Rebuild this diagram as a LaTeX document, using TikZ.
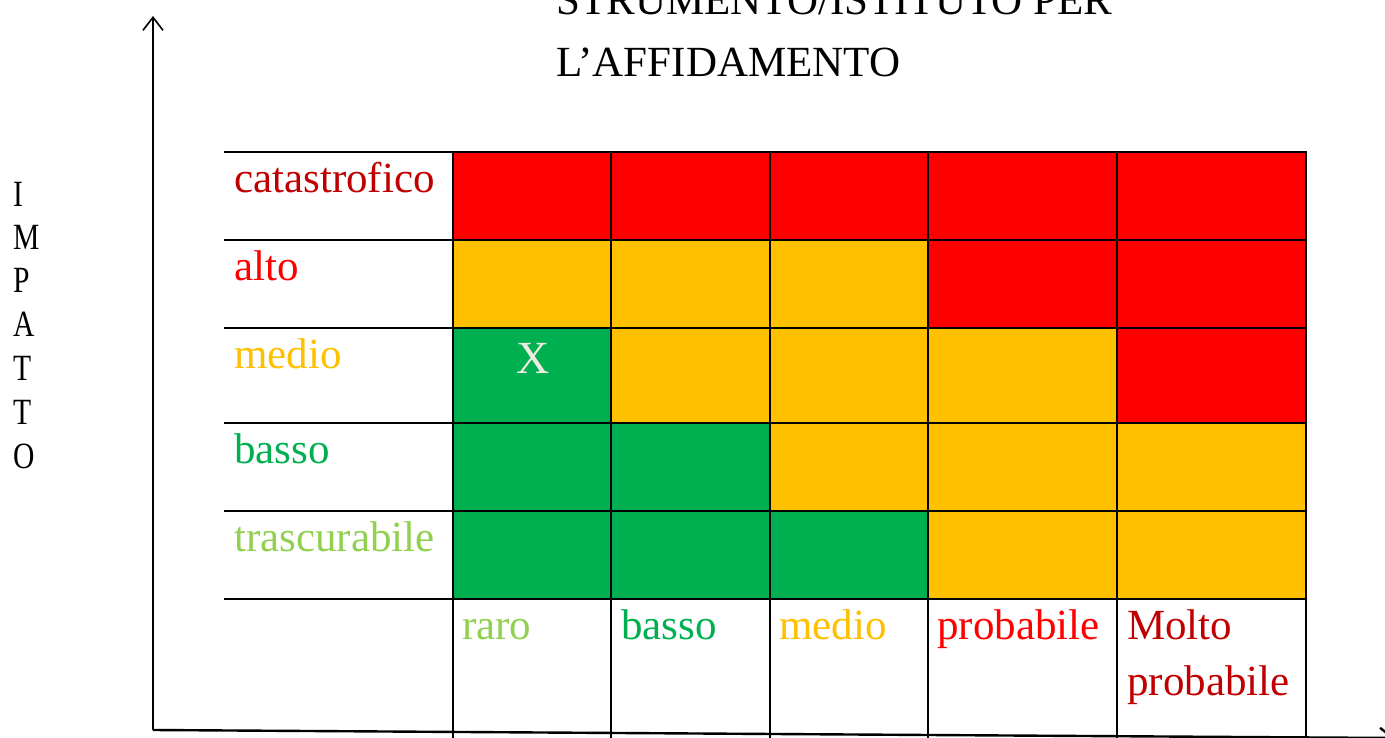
\documentclass[tikz,border=0pt]{standalone}
\usepackage{fontspec}
\setmainfont{Liberation Serif}
\usetikzlibrary{arrows.meta}
\definecolor{rosso}{HTML}{FF0000}
\definecolor{arancio}{HTML}{FFC000}
\definecolor{verde}{HTML}{00B050}
\definecolor{verdech}{HTML}{92D050}
\definecolor{rossoscuro}{HTML}{C00000}
\definecolor{crema}{HTML}{EEECE1}
\begin{document}
\begin{tikzpicture}[x=1pt,y=-1pt,
  lbl/.style={anchor=base west, inner sep=0pt, font=\fontsize{43}{52}\selectfont},
  vlet/.style={anchor=base west, inner sep=0pt, font=\fontsize{37}{44}\selectfont, xscale=0.8},
  gridline/.style={line width=2pt, black},
  axisline/.style={line width=1.6pt, black, -{Straight Barb[length=13pt,width=20pt]}}]
\useasboundingbox (0,0) rectangle (1385,738);
\fill[white] (0,0) rectangle (1385,738);
% cells
\foreach \xa/\xb/\cc in {453/611/rosso,611/770/rosso,770/928/rosso,928/1117/rosso,1117/1306/rosso}
  \fill[\cc] (\xa,152) rectangle (\xb,240);
\foreach \xa/\xb/\cc in {453/611/arancio,611/770/arancio,770/928/arancio,928/1117/rosso,1117/1306/rosso}
  \fill[\cc] (\xa,240) rectangle (\xb,328);
\foreach \xa/\xb/\cc in {453/611/verde,611/770/arancio,770/928/arancio,928/1117/arancio,1117/1306/rosso}
  \fill[\cc] (\xa,328) rectangle (\xb,423);
\foreach \xa/\xb/\cc in {453/611/verde,611/770/verde,770/928/arancio,928/1117/arancio,1117/1306/arancio}
  \fill[\cc] (\xa,423) rectangle (\xb,511);
\foreach \xa/\xb/\cc in {453/611/verde,611/770/verde,770/928/verde,928/1117/arancio,1117/1306/arancio}
  \fill[\cc] (\xa,511) rectangle (\xb,599);
% grid
\foreach \y in {152,240,328,423,511,599}
  \draw[gridline] (224,\y) -- (1307,\y);
\foreach \x in {453,611,770,928,1117,1306}
  \draw[gridline] (\x,151) -- (\x,750);
% axes
\coordinate (O) at (153,730);
\coordinate (ytop) at (153,16);
\coordinate (xend) at (1395,738);
\draw[axisline] (O) -- (ytop);
\draw[axisline, line width=2.4pt] (O) -- (xend);
% title
\node[lbl] (t1) at (556,15) {STRUMENTO/ISTITUTO PER};
\node[lbl] (t2) at (556,77) {L’AFFIDAMENTO};
% vertical label
\foreach \l/\yy [count=\i] in {I/207,M/250,P/293,A/337,T/380,T/424,O/468}
  \node[vlet] (v\i) at (13,\yy) {\l};
% row labels
\node[lbl, text=rossoscuro] (r1) at (234,193) {catastrofico};
\node[lbl, text=rosso] (r2) at (234,280) {alto};
\node[lbl, text=arancio] (r3) at (234,368) {medio};
\node[lbl, text=verde] (r4) at (234,463) {basso};
\node[lbl, text=verdech] (r5) at (234,551) {trascurabile};
% column labels
\node[lbl, text=verdech] (c1) at (462,639) {raro};
\node[lbl, text=verde] (c2) at (621,639) {basso};
\node[lbl, text=arancio] (c3) at (779,639) {medio};
\node[lbl, text=rosso] (c4) at (937,639) {probabile};
\node[lbl, text=rossoscuro] (c5a) at (1127,639) {Molto};
\node[lbl, text=rossoscuro] (c5b) at (1127,695) {probabile};
% mark
\node[anchor=base, inner sep=0pt, font=\fontsize{46}{52}\selectfont, text=crema] (xm) at (533,373) {X};
\end{tikzpicture}
\end{document}
